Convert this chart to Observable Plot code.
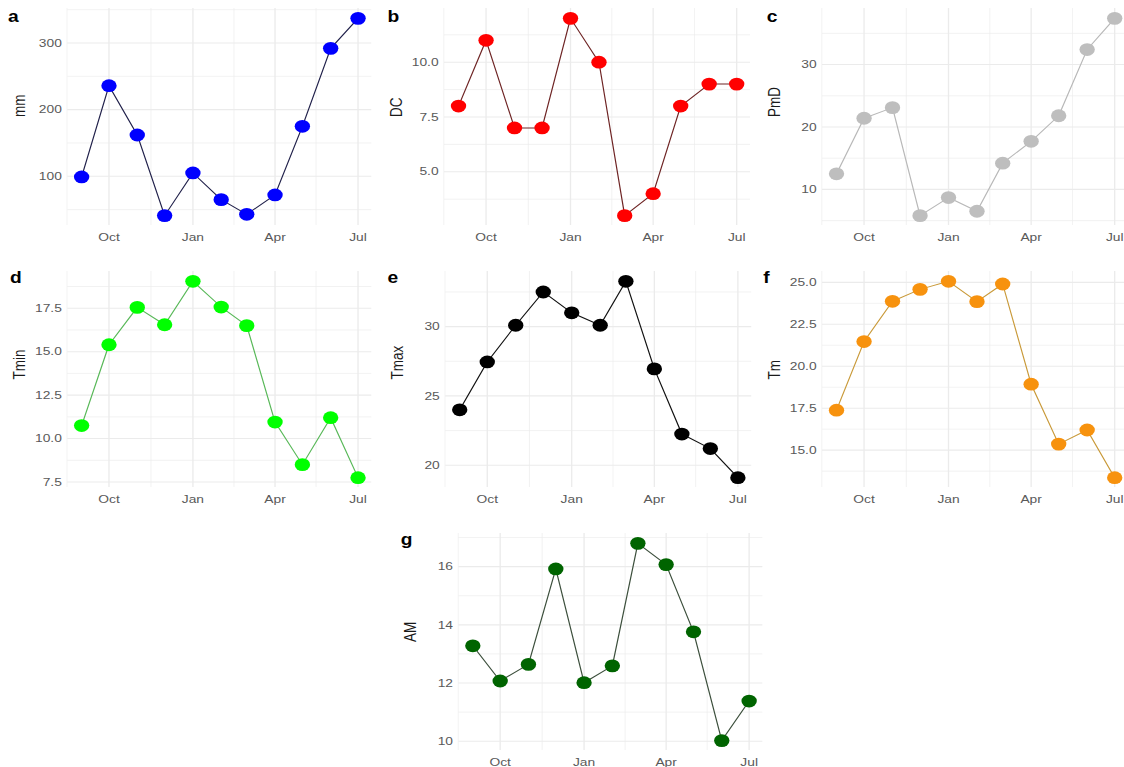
<!DOCTYPE html>
<html>
<head>
<meta charset="utf-8">
<script src="https://cdn.jsdelivr.net/npm/d3@7"></script>
<script src="https://cdn.jsdelivr.net/npm/@observablehq/plot@0.6"></script>
<style>
  html, body { margin: 0; padding: 0; background: #fff; }
  body { width: 1124px; height: 767px; overflow: hidden; }
  #stage {
    position: absolute; left: 0; top: 0;
    width: 936.67px; height: 767px; overflow: hidden;
    transform: scaleX(1.2); transform-origin: 0 0;
    font-family: "Liberation Sans", Arial, sans-serif;
  }
  #stage > svg, #stage > div { position: absolute; }
</style>
</head>
<body>
<div id="stage"></div>
<script>
// ---- data ----
const months = ["2020-09-01","2020-10-01","2020-11-01","2020-12-01","2021-01-01","2021-02-01",
                "2021-03-01","2021-04-01","2021-05-01","2021-06-01","2021-07-01"];
const mm   = [99, 236, 162, 41, 105, 65, 43, 72, 175, 292, 337];
const DC   = [8, 11, 7, 7, 12, 10, 3, 4, 8, 9, 9];
const PmD  = [12.5, 21.4, 23.1, 5.8, 8.7, 6.5, 14.2, 17.7, 21.8, 32.4, 37.4];
const Tmin = [10.75, 15.4, 17.55, 16.55, 19.05, 17.57, 16.5, 10.95, 8.5, 11.2, 7.75];
const Tmax = [24.0, 27.45, 30.1, 32.5, 31.0, 30.1, 33.27, 26.95, 22.25, 21.2, 19.1];
const Tm   = [17.38, 21.47, 23.87, 24.58, 25.06, 23.85, 24.9, 18.93, 15.36, 16.2, 13.36];
const AM   = [13.28, 12.07, 12.64, 15.92, 12.01, 12.59, 16.8, 16.07, 13.76, 10.02, 11.38];

// x tick labels (major) and minor grid dates
const xMajor = ["2020-10-01","2021-01-01","2021-04-01","2021-07-01"];
const xMinor = ["2020-08-16","2020-11-16","2021-02-15","2021-05-16"];

// y ticks
const mmTicks   = [100, 200, 300];        const mmMinor   = [50, 150, 250, 350];
const DCTicks   = [5, 7.5, 10];           const DCMinor   = [3.75, 6.25, 8.75, 11.25];
const PmDTicks  = [10, 20, 30];           const PmDMinor  = [5, 15, 25, 35];
const TminTicks = [7.5, 10, 12.5, 15, 17.5]; const TminMinor = [8.75, 11.25, 13.75, 16.25, 18.75];
const TmaxTicks = [20, 25, 30];           const TmaxMinor = [22.5, 27.5, 32.5];
const TmTicks   = [15, 17.5, 20, 22.5, 25]; const TmMinor = [13.75, 16.25, 18.75, 21.25, 23.75];
const AMTicks   = [10, 12, 14, 16];       const AMMinor   = [11, 13, 15, 17];

// ---- layout (container units; container is stretched x1.2) ----
const dates = months.map(d => new Date(d));
const f1 = d3.format(".1f"), f0 = d3.format("d");
const panels = [
  {tag:"a", label:"mm",   v:mm,   t:mmTicks,   m:mmMinor,   fmt:f0, dot:"#0000ff", line:"#20204a", L:55.8, R:309.2, T:8,   B:225, tx:6.7, ty:22},
  {tag:"b", label:"DC",   v:DC,   t:DCTicks,   m:DCMinor,   fmt:f1, dot:"#ff0000", line:"#6e2424", L:370,  R:625,   T:8,   B:225, tx:323, ty:22.5},
  {tag:"c", label:"PmD",  v:PmD,  t:PmDTicks,  m:PmDMinor,  fmt:f0, dot:"#bebebe", line:"#b8b8b8", L:685,  R:940,   T:8,   B:225, tx:639, ty:22},
  {tag:"d", label:"Tmin", v:Tmin, t:TminTicks, m:TminMinor, fmt:f1, dot:"#00ff00", line:"#58b858", L:55.8, R:309.2, T:271, B:487, tx:8.3, ty:283},
  {tag:"e", label:"Tmax", v:Tmax, t:TmaxTicks, m:TmaxMinor, fmt:f0, dot:"#000000", line:"#111111", L:370.8,R:625.8, T:271, B:487, tx:323, ty:283},
  {tag:"f", label:"Tm",   v:Tm,   t:TmTicks,   m:TmMinor,   fmt:f1, dot:"#f7920e", line:"#c99a3a", L:685,  R:940,   T:271, B:487, tx:636, ty:283},
  {tag:"g", label:"AM",   v:AM,   t:AMTicks,   m:AMMinor,   fmt:f0, dot:"#006400", line:"#3c4f3c", L:381.7,R:635,   T:533, B:750, tx:334, ty:545}
];

const stage = document.getElementById("stage");
const ML = 60, MR = 10, MT = 10, MB = 30;
const t0 = dates[0].getTime(), t1 = dates[dates.length - 1].getTime();
const xPad = (t1 - t0) * 0.05;
const xDomain = [new Date(t0 - xPad), new Date(t1 + xPad)];

for (const p of panels) {
  const data = dates.map((d, i) => ({date: d, value: p.v[i]}));
  const lo = d3.min(p.v), hi = d3.max(p.v), pad = (hi - lo) * 0.05;
  const chart = Plot.plot({
    width: (p.R - p.L) + ML + MR,
    height: (p.B - p.T) + MT + MB,
    marginLeft: ML, marginRight: MR, marginTop: MT, marginBottom: MB,
    style: {fontFamily: '"Liberation Sans", Arial, sans-serif', color: "#595959", background: "transparent", overflow: "visible"},
    x: {type: "utc", domain: xDomain},
    y: {domain: [lo - pad, hi + pad]},
    marks: [
      Plot.gridX(xMinor.map(d => new Date(d)), {stroke: "#ebebeb", strokeOpacity: 1, strokeWidth: 0.6}),
      Plot.gridY(p.m, {stroke: "#ebebeb", strokeOpacity: 1, strokeWidth: 0.6}),
      Plot.gridX(xMajor.map(d => new Date(d)), {stroke: "#ebebeb", strokeOpacity: 1, strokeWidth: 1.1}),
      Plot.gridY(p.t, {stroke: "#ebebeb", strokeOpacity: 1, strokeWidth: 1.1}),
      Plot.axisX(xMajor.map(d => new Date(d)), {tickSize: 0, tickPadding: 7, tickFormat: d3.utcFormat("%b"), fontSize: 11.5, label: null}),
      Plot.axisY(p.t, {tickSize: 0, tickPadding: 5, tickFormat: p.fmt, fontSize: 11.5, label: null}),
      Plot.text([p.label], {frameAnchor: "left", dx: -40, rotate: -90, fontSize: 13.5, fill: "#1a1a1a"}),
      Plot.line(data, {x: "date", y: "value", stroke: p.line, strokeWidth: 1}),
      Plot.dot(data, {x: "date", y: "value", r: 6.4, fill: p.dot, stroke: "none"})
    ]
  });
  chart.style.left = (p.L - ML) + "px";
  chart.style.top = (p.T - MT) + "px";
  stage.appendChild(chart);
}

// panel tags
const ns = "http://www.w3.org/2000/svg";
const overlay = document.createElementNS(ns, "svg");
overlay.setAttribute("width", 937);
overlay.setAttribute("height", 767);
overlay.style.left = "0px"; overlay.style.top = "0px";
overlay.style.pointerEvents = "none";
for (const p of panels) {
  const t = document.createElementNS(ns, "text");
  t.setAttribute("x", p.tx);
  t.setAttribute("y", p.ty);
  t.setAttribute("font-size", 16);
  t.setAttribute("font-weight", "bold");
  t.setAttribute("font-family", '"Liberation Sans", Arial, sans-serif');
  t.setAttribute("fill", "#000");
  t.textContent = p.tag;
  overlay.appendChild(t);
}
stage.appendChild(overlay);
</script>
</body>
</html>
